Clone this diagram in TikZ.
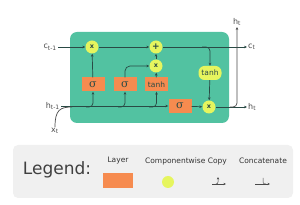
\documentclass[tikz,border=0pt]{standalone}
\usepackage{fontspec}
\setmainfont{DejaVu Sans}
\newfontfamily\sigfont{DejaVu Serif}
\usetikzlibrary{arrows.meta}
\definecolor{cellgreen}{HTML}{52C2A1}
\definecolor{layerorange}{HTML}{F68B4F}
\definecolor{opyellow}{HTML}{E6F55E}
\definecolor{innerline}{HTML}{2A4A45}
\definecolor{outerline}{HTML}{4A4A4A}
\definecolor{legendbg}{HTML}{F0F0F0}
\tikzset{
  layer/.style={fill=layerorange, minimum width=23pt, minimum height=14pt, inner sep=0pt, font=\sigfont\fontsize{11}{11}\selectfont, text=innerline},
  op/.style={circle, fill=opyellow, minimum size=13pt, inner sep=0pt, font=\fontsize{6.5}{6.5}\selectfont\bfseries, text=innerline},
  opwide/.style={rounded corners=6pt, fill=opyellow, minimum width=23pt, minimum height=14pt, inner sep=0pt, font=\fontsize{7.5}{7.5}\selectfont, text=innerline},
  lbl/.style={font=\fontsize{8}{8}\selectfont, text=outerline, inner sep=1pt},
  arr/.style={-{Stealth[length=3pt,width=2.6pt]}, line width=0.7pt, draw=innerline},
  arrout/.style={-{Stealth[length=3pt,width=2.6pt]}, line width=0.7pt, draw=outerline},
  legtxt/.style={font=\fontsize{7.5}{7.5}\selectfont, text=black!80, inner sep=0pt},
}
\begin{document}
\begin{tikzpicture}[x=1pt,y=-1pt]
\useasboundingbox (0,0) rectangle (300,205);
% cell
\fill[cellgreen, rounded corners=7pt] (70,32) rectangle (229,123);
% labels
\node[lbl, anchor=east] (cin) at (58,47) {c\textsubscript{t-1}};
\node[lbl, anchor=east] (hin) at (61,106) {h\textsubscript{t-1}};
\node[lbl] (xt) at (55,131) {x\textsubscript{t}};
\node[lbl, anchor=west] (cout) at (247,47) {c\textsubscript{t}};
\node[lbl, anchor=west] (hout) at (247,107) {h\textsubscript{t}};
\node[lbl, anchor=south] (htop) at (237,27) {h\textsubscript{t}};
% nodes
\node[op] (m1) at (92,47) {x};
\node[op, font=\fontsize{9}{9}\selectfont\bfseries] (plus) at (156,47) {+};
\node[op] (m2) at (156,66) {x};
\node[layer] (s1) at (93,84.5) {σ};
\node[layer] (s2) at (125,84.5) {σ};
\node[layer, font=\fontsize{7.5}{7.5}\selectfont] (t1) at (156.5,84.5) {tanh};
\node[layer] (s3) at (180,106) {σ};
\node[op] (m3) at (209,107) {x};
\node[opwide] (t2) at (210,73) {tanh};
% connectors
\draw[arr] (cin.east) -- (m1);
\draw[arr] (m1) -- (plus);
\draw[arr] (plus) -- (cout.west);
\draw[arr, rounded corners=4pt] (202,47) -| (t2.north);
\draw[arr] (t2) -- (m3);
\draw[arr] (s1) -- (m1);
\draw[arr] (t1) -- (m2);
\draw[arr] (m2) -- (plus);
\draw[arr, rounded corners=5pt] (s2.north) |- (m2.west);
\draw[arr] (hin.east) -- (s3.west);
\draw[arr] (s3) -- (m3);
\draw[arr] (m3) -- (hout.west);
\draw[arr, rounded corners=4pt] (86,107) -| (s1.south);
\draw[arr, rounded corners=4pt] (118,107) -| (s2.south);
\draw[arr, rounded corners=4pt] (149,107) -| (t1.south);
\draw[line width=0.7pt, draw=outerline] (xt.north) .. controls (55,110) and (60,107) .. (72,107);
\draw[arrout, rounded corners=4pt] (230,107) -| (htop.south);
% legend
\fill[legendbg, rounded corners=5pt] (13,145) rectangle (293,198);
\node[font=\fontsize{17}{17}\selectfont, text=black!75, inner sep=0pt] (leg) at (57,170) {Legend:};
\node[legtxt] (llayer) at (118,161) {Layer};
\node[legtxt] (lcomp) at (186,161) {Componentwise Copy};
\node[legtxt] (lconc) at (263,161) {Concatenate};
\node[fill=layerorange, minimum width=30pt, minimum height=15pt, inner sep=0pt] (lrect) at (118,181) {};
\node[circle, fill=opyellow, minimum size=12pt, inner sep=0pt] (lcirc) at (168,182) {};
\coordinate (cpA) at (212,184);
\coordinate (cpB) at (226,184);
\coordinate (cpC) at (218,177);
\draw[-{Stealth[length=2.5pt,width=2.2pt]}, line width=0.5pt, draw=outerline] (cpA) -- (cpB);
\draw[-{Stealth[length=2.5pt,width=2.2pt]}, line width=0.5pt, draw=outerline, rounded corners=2pt] (216,184) -| (cpC);
\coordinate (ccA) at (255,184);
\coordinate (ccB) at (270,184);
\coordinate (ccC) at (263,178);
\draw[-{Stealth[length=2.5pt,width=2.2pt]}, line width=0.5pt, draw=outerline] (ccA) -- (ccB);
\draw[line width=0.5pt, draw=outerline, rounded corners=2pt] (ccC) |- (266,184);
\end{tikzpicture}
\end{document}
